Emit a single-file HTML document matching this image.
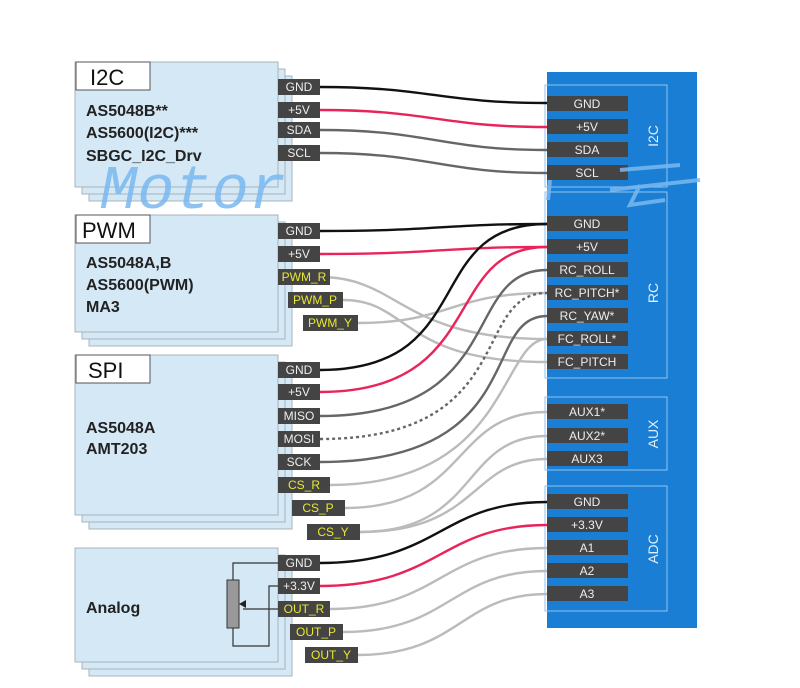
<!DOCTYPE html>
<html><head><meta charset="utf-8"><style>
body{margin:0;background:#fff;}
svg{display:block;font-family:"Liberation Sans",Arial,sans-serif;}
</style></head><body>
<svg width="800" height="688" viewBox="0 0 800 688" xmlns="http://www.w3.org/2000/svg">
<g fill="#d4e8f6" stroke="#a8b4bc" stroke-width="1">
<rect x="89" y="76" width="203" height="125"/><rect x="82" y="69" width="203" height="125"/><rect x="75" y="62" width="203" height="125"/>
<rect x="89" y="229" width="203" height="117"/><rect x="82" y="222" width="203" height="117"/><rect x="75" y="215" width="203" height="117"/>
<rect x="89" y="369" width="203" height="160"/><rect x="82" y="362" width="203" height="160"/><rect x="75" y="355" width="203" height="160"/>
<rect x="89" y="562" width="203" height="114"/><rect x="82" y="555" width="203" height="114"/><rect x="75" y="548" width="203" height="114"/>
</g>
<g fill="#fff" stroke="#555" stroke-width="1">
<rect x="76" y="62" width="74" height="28"/><rect x="76" y="215" width="74" height="28"/><rect x="76" y="355" width="74" height="28"/>
</g>
<g font-size="22" fill="#111">
<text x="90" y="85">I2C</text><text x="82" y="238">PWM</text><text x="88" y="378">SPI</text>
</g>
<g font-size="16" font-weight="bold" fill="#222">
<text x="86" y="116">AS5048B**</text><text x="86" y="138">AS5600(I2C)***</text><text x="86" y="161">SBGC_I2C_Drv</text>
<text x="86" y="268">AS5048A,B</text><text x="86" y="290">AS5600(PWM)</text><text x="86" y="312">MA3</text>
<text x="86" y="433">AS5048A</text><text x="86" y="454">AMT203</text>
<text x="86" y="613">Analog</text>
</g>
<g fill="none" stroke="#333" stroke-width="1.2">
<path d="M278 563 H233 V580"/><path d="M233 628 V646 H269 V586 H278"/><path d="M278 609 H243"/>
</g>
<rect x="227" y="580" width="12" height="48" fill="#999" stroke="#333"/>
<path d="M239 604 L246 600 V608 Z" fill="#222"/>
<rect x="547" y="72" width="150" height="556" fill="#1a7fd4"/>
<g fill="none" stroke="#8fc4f0" stroke-width="1">
<rect x="545" y="85" width="122" height="102"/><rect x="545" y="192" width="122" height="186"/>
<rect x="545" y="397" width="122" height="73"/><rect x="545" y="486" width="122" height="125"/>
</g>
<g fill="#dfefff" font-size="14" text-anchor="middle">
<text transform="translate(658,136) rotate(-90)">I2C</text>
<text transform="translate(658,293) rotate(-90)">RC</text>
<text transform="translate(658,434) rotate(-90)">AUX</text>
<text transform="translate(658,549) rotate(-90)">ADC</text>
</g>
<g fill="none" stroke-width="2.4">
<path d="M320 87 C430 87 440 103 547 103" stroke="#111"/>
<path d="M320 110 C430 110 440 127 547 127" stroke="#e8245a"/>
<path d="M320 130 C430 130 440 150 547 150" stroke="#666"/>
<path d="M320 153 C430 153 440 173 547 173" stroke="#666"/>
<path d="M320 231 C440 231 440 224 547 224" stroke="#111"/>
<path d="M320 254 C440 254 440 247 547 247" stroke="#e8245a"/>
<path d="M320 277 C400 277 400 339 547 339" stroke="#bbb"/>
<path d="M343 300 C410 300 400 362 547 362" stroke="#bbb"/>
<path d="M358 323 C450 323 450 293 547 293" stroke="#bbb"/>
<path d="M320 370 C480 370 420 224 547 224" stroke="#111"/>
<path d="M320 392 C490 392 440 247 547 247" stroke="#e8245a"/>
<path d="M320 416 C510 416 460 270 547 270" stroke="#666"/>
<path d="M320 439 C520 439 470 293 547 293" stroke="#666" stroke-dasharray="3,3"/>
<path d="M320 462 C530 462 480 316 547 316" stroke="#666"/>
<path d="M330 485 C510 485 500 339 547 339" stroke="#bbb"/>
<path d="M345 508 C470 508 450 412 547 412" stroke="#bbb"/>
<path d="M360 532 C480 532 460 436 547 436" stroke="#bbb"/>
<path d="M360 532 C480 532 470 459 547 459" stroke="#bbb"/>
<path d="M320 563 C440 563 440 502 547 502" stroke="#111"/>
<path d="M320 586 C440 586 440 525 547 525" stroke="#e8245a"/>
<path d="M330 609 C440 609 440 548 547 548" stroke="#bbb"/>
<path d="M343 632 C450 632 450 571 547 571" stroke="#bbb"/>
<path d="M358 655 C460 655 460 594 547 594" stroke="#bbb"/>
</g>
<g font-size="12" text-anchor="middle">
<g fill="#444"><rect x="278" y="79" width="42" height="16"/><rect x="278" y="102" width="42" height="16"/><rect x="278" y="122" width="42" height="16"/><rect x="278" y="145" width="42" height="16"/>
<rect x="278" y="223" width="42" height="16"/><rect x="278" y="246" width="42" height="16"/>
<rect x="278" y="362" width="42" height="16"/><rect x="278" y="384" width="42" height="16"/><rect x="278" y="408" width="42" height="16"/><rect x="278" y="431" width="42" height="16"/><rect x="278" y="454" width="42" height="16"/>
<rect x="278" y="555" width="42" height="16"/><rect x="278" y="578" width="42" height="16"/></g>
<g fill="#eee"><text x="299" y="91">GND</text><text x="299" y="114">+5V</text><text x="299" y="134">SDA</text><text x="299" y="157">SCL</text>
<text x="299" y="235">GND</text><text x="299" y="258">+5V</text>
<text x="299" y="374">GND</text><text x="299" y="396">+5V</text><text x="299" y="420">MISO</text><text x="299" y="443">MOSI</text><text x="299" y="466">SCK</text>
<text x="299" y="567">GND</text><text x="299" y="590">+3.3V</text></g>
<g fill="#444"><rect x="278" y="269" width="52" height="16"/><rect x="288" y="292" width="55" height="16"/><rect x="303" y="315" width="55" height="16"/>
<rect x="278" y="477" width="52" height="16"/><rect x="292" y="500" width="53" height="16"/><rect x="307" y="524" width="53" height="16"/>
<rect x="278" y="601" width="52" height="16"/><rect x="290" y="624" width="53" height="16"/><rect x="305" y="647" width="53" height="16"/></g>
<g fill="#e8e830"><text x="304" y="281">PWM_R</text><text x="315" y="304">PWM_P</text><text x="330" y="327">PWM_Y</text>
<text x="304" y="489">CS_R</text><text x="318" y="512">CS_P</text><text x="333" y="536">CS_Y</text>
<text x="304" y="613">OUT_R</text><text x="316" y="636">OUT_P</text><text x="331" y="659">OUT_Y</text></g>
</g>
<g fill="#444">
<rect x="547" y="96" width="81" height="15"/><rect x="547" y="119" width="81" height="15"/><rect x="547" y="142" width="81" height="15"/><rect x="547" y="165" width="81" height="15"/>
<rect x="547" y="216" width="81" height="15"/><rect x="547" y="239" width="81" height="15"/><rect x="547" y="262" width="81" height="15"/><rect x="547" y="285" width="81" height="15"/><rect x="547" y="308" width="81" height="15"/><rect x="547" y="331" width="81" height="15"/><rect x="547" y="354" width="81" height="15"/>
<rect x="547" y="404" width="81" height="15"/><rect x="547" y="428" width="81" height="15"/><rect x="547" y="451" width="81" height="15"/>
<rect x="547" y="494" width="81" height="15"/><rect x="547" y="517" width="81" height="15"/><rect x="547" y="540" width="81" height="15"/><rect x="547" y="563" width="81" height="15"/><rect x="547" y="586" width="81" height="15"/>
</g>
<g fill="#eee" font-size="12" text-anchor="middle">
<text x="587" y="108">GND</text><text x="587" y="131">+5V</text><text x="587" y="154">SDA</text><text x="587" y="177">SCL</text>
<text x="587" y="228">GND</text><text x="587" y="251">+5V</text><text x="587" y="274">RC_ROLL</text><text x="587" y="297">RC_PITCH*</text><text x="587" y="320">RC_YAW*</text><text x="587" y="343">FC_ROLL*</text><text x="587" y="366">FC_PITCH</text>
<text x="587" y="416">AUX1*</text><text x="587" y="440">AUX2*</text><text x="587" y="463">AUX3</text>
<text x="587" y="506">GND</text><text x="587" y="529">+3.3V</text><text x="587" y="552">A1</text><text x="587" y="575">A2</text><text x="587" y="598">A3</text>
</g>
<text x="100" y="208" font-family="Liberation Mono,monospace" font-style="italic" font-size="62" fill="#7ab8f0" opacity="0.85">Motor</text>
<g stroke="#7ab8f0" stroke-width="4" fill="none" opacity="0.85">
<path d="M620 170 L680 165"/><path d="M610 190 L700 180"/><path d="M640 185 L630 205 L665 200"/><path d="M550 180 L548 200"/>
</g>
</svg>
</body></html>
